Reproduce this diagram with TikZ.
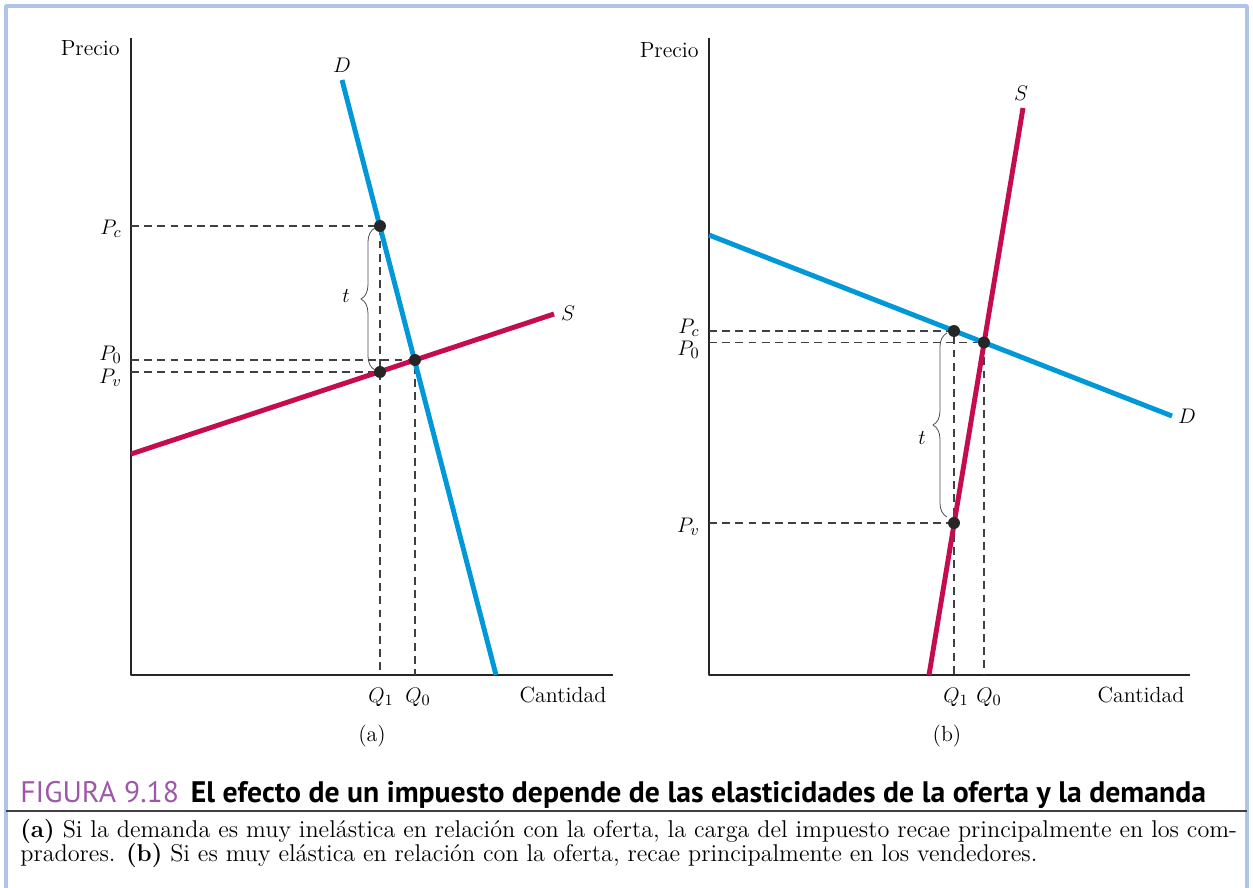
\documentclass[tikz,border=0pt]{standalone}
\usepackage{fontspec}
\newfontfamily\titulofont{PT Sans}
\usetikzlibrary{decorations.pathreplacing}
\definecolor{demanda}{RGB}{0,152,216}
\definecolor{oferta}{RGB}{196,12,78}
\definecolor{marco}{RGB}{176,196,232}
\definecolor{figura}{RGB}{158,88,168}
\tikzset{
  curva/.style={line width=2.8pt, line cap=butt},
  eje/.style={line width=0.8pt, black!85},
  guia/.style={line width=0.6pt, dash pattern=on 4.5pt off 3pt, black!75},
  punto/.style={circle, fill=black!85, inner sep=0pt, minimum size=6.8pt},
  llave/.style={decorate, decoration={brace, amplitude=8pt}, line width=0.45pt, black!70},
  etiqueta/.style={font=\fontsize{12.5}{15}\selectfont, inner sep=0pt},
  leyenda/.style={anchor=base west, inner sep=0pt, font=\fontsize{13.8}{16}\selectfont},
}
\begin{document}
\begin{tikzpicture}[x=0.02cm, y=-0.02cm, line join=round]
	\useasboundingbox (0,0) rectangle (1253,888);
	% marco de la figura
	\draw[marco, line width=2pt] (6,888) -- (6,6) -- (1247,6) -- (1247,888);
	\draw[black!75, line width=1.1pt] (6,811) -- (1247,811);

	% ---------- panel (a) ----------
	\coordinate (oA) at (131,675);
	\coordinate (yA) at (131,38);
	\coordinate (xA) at (613,675);
	\draw[eje] (yA) -- (oA) -- (xA);
	\node[etiqueta, anchor=east] (precioA) at (120,48) {Precio};
	\node[etiqueta] (cantidadA) at (563,695) {Cantidad};
	\node[etiqueta] (rotA) at (372,736) {(a)};
	% guias
	\coordinate (pcA) at (380,226);
	\coordinate (p0A) at (415,360);
	\coordinate (pvA) at (380,372);
	\draw[guia] (131,226) -- (pcA) -- (380,675);
	\draw[guia] (131,360) -- (p0A) -- (415,675);
	\draw[guia] (131,372) -- (pvA);
	% curvas
	\coordinate (dA1) at (342,80);  \coordinate (dA2) at (496,675);
	\coordinate (sA1) at (131,454); \coordinate (sA2) at (554,314);
	\draw[curva, oferta] (sA1) -- (sA2);
	\draw[curva, demanda] (dA1) -- (dA2);
	\node[etiqueta] at (342,65) {$D$};
	\node[etiqueta] at (568,313) {$S$};
	\node[punto] (PcA) at (pcA) {};
	\node[punto] (P0A) at (p0A) {};
	\node[punto] (PvA) at (pvA) {};
	\node[etiqueta, anchor=east] at (122,229) {$P_c$};
	\node[etiqueta, anchor=east] at (122,355) {$P_0$};
	\node[etiqueta, anchor=east] at (122,378) {$P_v$};
	\node[etiqueta] at (381,697) {$Q_1$};
	\node[etiqueta] at (418,697) {$Q_0$};
	\draw[llave] (375,370) -- (375,228);
	\node[etiqueta] (tA) at (346,296) {$t$};

	% ---------- panel (b) ----------
	\coordinate (oB) at (709,675);
	\coordinate (yB) at (709,38);
	\coordinate (xB) at (1190,675);
	\draw[eje] (yB) -- (oB) -- (xB);
	\node[etiqueta, anchor=east] (precioB) at (699,50) {Precio};
	\node[etiqueta] (cantidadB) at (1141,695) {Cantidad};
	\node[etiqueta] (rotB) at (947,736) {(b)};
	% guias
	\coordinate (pcB) at (954,331);
	\coordinate (p0B) at (984,342.5);
	\coordinate (pvB) at (954,523);
	\draw[guia] (709,331) -- (pcB) -- (954,675);
	\draw[guia] (709,342.5) -- (p0B) -- (984,675);
	\draw[guia] (709,523) -- (pvB);
	% curvas
	\coordinate (dB1) at (709,235);  \coordinate (dB2) at (1172,416);
	\coordinate (sB1) at (929,675);  \coordinate (sB2) at (1023,108);
	\draw[curva, demanda] (dB1) -- (dB2);
	\draw[curva, oferta] (sB1) -- (sB2);
	\node[etiqueta] at (1021,93) {$S$};
	\node[etiqueta] at (1187,416) {$D$};
	\node[punto] (PcB) at (pcB) {};
	\node[punto] (P0B) at (p0B) {};
	\node[punto] (PvB) at (pvB) {};
	\node[etiqueta, anchor=east] at (700,328) {$P_c$};
	\node[etiqueta, anchor=east] at (700,350) {$P_0$};
	\node[etiqueta, anchor=east] at (700,527) {$P_v$};
	\node[etiqueta] at (956,697) {$Q_1$};
	\node[etiqueta] at (989,697) {$Q_0$};
	\draw[llave] (947,517) -- (947,333);
	\node[etiqueta] (tB) at (922,438) {$t$};

	% ---------- leyenda ----------
	\node[anchor=base west, inner sep=0pt, font=\titulofont\fontsize{16.9}{20}\selectfont] (titulo) at (20,802)
		{\textcolor{figura}{FIGURA 9.18}\hspace{0.4em}\textbf{El efecto de un impuesto depende de las elasticidades de la oferta y la demanda}};
	\node[leyenda] (linea1) at (20,837)
		{\textbf{(a)} Si la demanda es muy inelástica en relación con la oferta, la carga del impuesto recae principalmente en los com-};
	\node[leyenda] (linea2) at (20,861)
		{pradores. \textbf{(b)} Si es muy elástica en relación con la oferta, recae principalmente en los vendedores.};
\end{tikzpicture}
\end{document}
